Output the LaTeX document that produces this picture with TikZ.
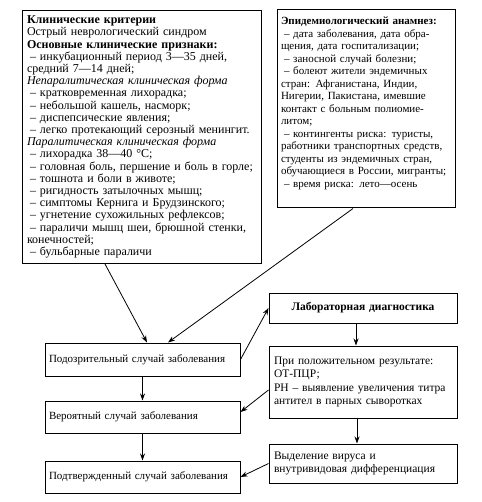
\documentclass[tikz,border=0pt]{standalone}
\usepackage{fontspec}
\setmainfont{Liberation Serif}
\usepackage{tikz}
\usetikzlibrary{arrows.meta, positioning}

\newcommand{\dashitem}{\hspace*{3pt}--\ }

\begin{document}
\begin{tikzpicture}[
    x=1pt, y=-1pt,
    font=\fontsize{11}{12.2}\selectfont,
    infobox/.style={rectangle, draw=black, line width=1pt, align=left, inner xsep=4pt, inner ysep=3pt},
    casebox/.style={rectangle, draw=black, line width=1pt, align=left, inner xsep=4pt,
      minimum width=195pt, text width=187pt},
    labbox/.style={rectangle, draw=black, line width=1pt, align=left, inner xsep=5pt,
      minimum width=188pt, text width=178pt, font=\fontsize{11.5}{13.5}\selectfont},
    arrow/.style={-{Stealth[length=7pt, width=5pt]}, line width=0.8pt},
  ]
  \useasboundingbox (0,0) rectangle (481,502);

  % top boxes
  \node[infobox, font=\fontsize{12}{12.2}\selectfont, inner xsep=5pt, text width=229pt, minimum height=253pt] (clin) at (141.5,137) {%
    \textbf{Клинические критерии}\\
    Острый неврологический синдром\\
    \textbf{Основные клинические признаки:}\\
    \dashitem инкубационный период 3—35 дней,\\
    средний 7—14 дней;\\
    \textit{Непаралитическая клиническая форма}\\
    \dashitem кратковременная лихорадка;\\
    \dashitem небольшой кашель, насморк;\\
    \dashitem диспепсические явления;\\
    \dashitem легко протекающий серозный менингит.\\
    \textit{Паралитическая клиническая форма}\\
    \dashitem лихорадка 38—40 °С;\\
    \dashitem головная боль, першение и боль в горле;\\
    \dashitem тошнота и боли в животе;\\
    \dashitem ригидность затылочных мышц;\\
    \dashitem симптомы Кернига и Брудзинского;\\
    \dashitem угнетение сухожильных рефлексов;\\
    \dashitem параличи мышц шеи, брюшной стенки,\\
    конечностей;\\
    \dashitem бульбарные параличи};

  \node[infobox, font=\fontsize{11}{12.5}\selectfont, text width=170pt, minimum height=198pt] (epid) at (366,109) {%
    \textbf{Эпидемиологический анамнез:}\\
    \dashitem дата заболевания, дата обра-\\
    щения, дата госпитализации;\\
    \dashitem заносной случай болезни;\\
    \dashitem болеют жители эндемичных\\
    стран: Афганистана, Индии,\\
    Нигерии, Пакистана, имевшие\\
    контакт с больным полиомие-\\
    литом;\\
    \dashitem контингенты риска: туристы,\\
    работники транспортных средств,\\
    студенты из эндемичных стран,\\
    обучающиеся в России, мигранты;\\
    \dashitem время риска: лето—осень\\[1.5pt]
    \mbox{}};

  % case definitions
  \node[casebox, minimum height=33pt] (susp) at (142.5,359.5) {Подозрительный случай заболевания};
  \node[casebox, minimum height=32pt] (prob) at (142.5,417) {Вероятный случай заболевания};
  \node[casebox, minimum height=32pt] (conf) at (142.5,477) {Подтвержденный случай заболевания};

  % laboratory
  \node[labbox, minimum height=30pt, align=center] (lab) at (363,308) {\textbf{Лабораторная диагностика}};
  \node[labbox, minimum height=72pt] (pcr) at (363,382) {%
    При положительном результате:\\
    ОТ-ПЦР;\\
    РН – выявление увеличения титра\\
    антител в парных сыворотках};
  \node[labbox, minimum height=39pt] (virus) at (363,463.5) {%
    Выделение вируса и\\
    внутривидовая дифференциация};

  \draw[arrow] ([xshift=-36.5pt]clin.south) -- ([xshift=4.5pt]susp.north);
  \draw[arrow] ([xshift=-13pt]epid.south) -- ([xshift=25.5pt]susp.north);
  \draw[arrow] (susp.east) -- (lab.west);
  \draw[arrow] (susp) -- (prob);
  \draw[arrow] (prob) -- (conf);
  \draw[arrow] ([xshift=-7pt]lab.south) -- ([xshift=-7pt]pcr.north);
  \draw[arrow] ([xshift=-6pt]pcr.south) -- ([xshift=-6pt]virus.north);
  \draw[arrow] ([yshift=-8pt]pcr.west) -- ([yshift=5pt]prob.east);
  \draw[arrow] (virus.west) -- (conf.east);
\end{tikzpicture}
\end{document}
